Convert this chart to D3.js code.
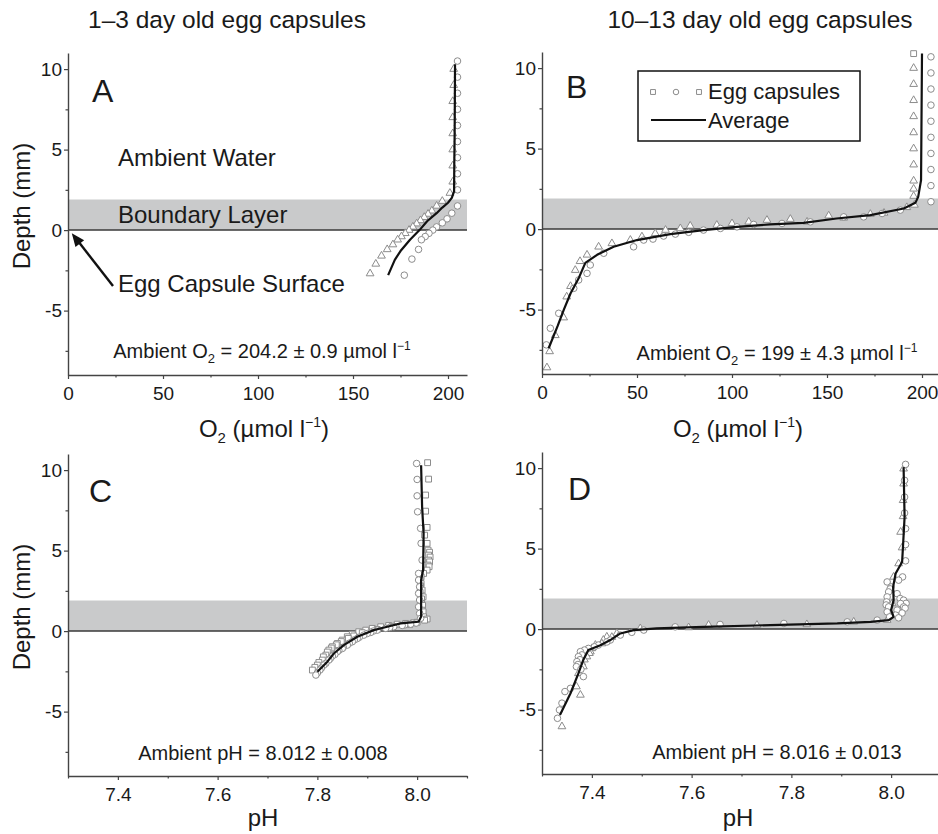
<!DOCTYPE html>
<html>
<head>
<meta charset="utf-8">
<script src="https://cdn.jsdelivr.net/npm/d3@7"></script>
<style>
  html, body { margin: 0; padding: 0; background: #fff; overflow: hidden; }
  text { font-family: "Liberation Sans", Arial, sans-serif; fill: #1a1a1a; }
</style>
</head>
<body>
<div id="chart"></div>
<script>
// shared scales / ticks
const depthDomain = [-9, 11];
const depthTicks = [-5, 0, 5, 10];
const depthMinor = [-7.5, -2.5, 2.5, 7.5];
const boundaryLayer = [0, 1.9];
const o2Domain = [0, 210];
const o2Ticks = [0, 50, 100, 150, 200];
const o2Minor = [25, 75, 125, 175];
const phDomain = [7.3, 8.1];
const phTicks = [7.4, 7.6, 7.8, 8.0];
const phMinor = [7.3, 7.5, 7.7, 7.9, 8.1];

// A: 1-3 day, O2
const aTriDepth = [10.0, 9.0, 8.0, 7.0, 6.0, 5.0, 4.0, 3.0, 2.3, 1.8, 1.5, 1.2, 1.0, 0.8, 0.6, 0.4, 0.2, 0.0, -0.2, -0.4, -0.6, -0.9, -1.2, -1.6, -2.1, -2.7];
const aTriO2 = [203, 203, 202.5, 202.5, 202.5, 202.5, 202.5, 202.5, 201, 197, 194, 191.5, 189.5, 187.5, 185.5, 183.5, 181.5, 179.5, 177.5, 175.5, 173.5, 171, 168, 165, 162, 159];
const aCirDepth = [10.5, 9.5, 8.5, 7.5, 6.5, 5.5, 4.5, 3.5, 2.5, 1.5, 1.05, 0.7, 0.45, 0.2, 0.0, -0.2, -0.4, -0.6, -1.2, -1.8, -2.8];
const aCirO2 = [205, 205, 205, 205, 205, 205, 205, 205, 205, 205, 202, 199.5, 197, 194, 192, 190, 188, 186, 184.5, 181, 177];
const aAvgDepth = [10.3, 8, 6, 4, 2.4, 2.0, 1.7, 1.4, 1.05, 0.55, 0.0, -0.6, -1.3, -1.85, -2.8];
const aAvgO2 = [203.7, 203.6, 203.5, 203.3, 203.2, 202, 200, 197, 194, 189, 185, 180, 175, 172, 168.5];

// B: 10-13 day, O2
const bTriDepth = [10.0, 9.0, 8.0, 7.0, 6.0, 5.0, 4.0, 3.0, 2.5, 2.05, 1.5, 1.35, 1.0, 0.93, 0.7, 0.83, 0.45, 0.62, 0.56, 0.45, 0.35, 0.25, 0.2, 0.04, -0.06, -0.27, -0.47, -0.68, -0.89, -1.1, -1.6, -2.0, -2.55, -3.55, -4.2, -5.5, -6.6, -7.6, -8.6];
const bTriO2 = [195.6, 195.6, 195.6, 195.6, 195.6, 195.6, 195.6, 195.6, 195.6, 195.6, 196, 192, 180, 172.8, 158.8, 150.9, 139.5, 130.7, 118.4, 108.8, 100, 92, 78, 72.8, 65, 59.6, 52.6, 46.5, 36.8, 29.8, 23.7, 20, 17.5, 15, 13, 11.4, 7, 4, 2.6];
const bCirDepth = [10.7, 9.7, 8.7, 7.7, 6.7, 5.7, 4.7, 3.7, 2.7, 1.7, 1.18, 0.97, 0.76, 0.76, 0.45, 0.35, 0.29, 0.14, 0.04, -0.06, -0.2, -0.31, -0.43, -0.62, -0.68, -1.1, -1.5, -2.23, -2.75, -3.16, -3.68, -5.23, -6.16, -7.19];
const bCirO2 = [204.7, 204.7, 204.7, 204.7, 204.7, 204.7, 204.7, 204.7, 204.7, 204.7, 188.6, 179, 169.3, 158.8, 141.2, 126.3, 111.4, 102.6, 93.9, 85, 77.2, 70.2, 64, 58.4, 53.5, 48.2, 32.5, 25.4, 23.7, 19.3, 16.7, 8.8, 4.4, 2.3];
const bSqrDepth = [10.9];
const bSqrO2 = [195.6];
const bAvgDepth = [10.9, 3.04, 2.0, 1.63, 1.28, 0.87, 0.66, 0.39, 0.29, 0.14, -0.06, -0.31, -0.68, -1.1, -1.6, -2.1, -3.0, -4.0, -5.0, -6.0, -7.4];
const bAvgO2 = [200, 199.5, 198, 196.5, 190.4, 172.8, 155, 137.7, 120, 102.6, 85, 67.5, 50, 37.7, 29, 22.8, 19.5, 15, 11.5, 8.3, 3.5];

// C: 1-3 day, pH
const cSqrDepth = [10.46, 9.44, 8.45, 7.45, 6.44, 5.96, 5.45, 5.03, 4.9, 4.72, 4.6, 4.41, 4.3, 4.1, 4.0, 3.79, 3.58, 3.37, 3.2, 2.96, 2.8, 2.55, 2.4, 2.13, 2.0, 1.72, 1.6, 1.3, 1.2, 0.89, 0.75, 0.68,
  0.55, 0.52, 0.48, 0.43, 0.4, 0.35, 0.3, 0.27, 0.17, 0.1, 0.06, -0.04, -0.1, -0.19, -0.3, -0.35, -0.45, -0.56, -0.65, -0.77, -0.85, -0.97, -1.05, -1.18, -1.3, -1.49, -1.6, -1.8, -1.95, -2.11, -2.25, -2.42];
const cSqrPH = [8.021, 8.023, 8.017, 8.017, 8.02, 8.015, 8.02, 8.022, 8.025, 8.023, 8.026, 8.023, 8.025, 8.022, 8.024, 8.02, 8.013, 8.008, 8.006, 8.008, 8.007, 8.01, 8.006, 8.012, 8.009, 8.008, 8.011, 8.01, 8.012, 8.013, 8.02, 8.015,
  8.0, 7.993, 7.977, 7.96, 7.985, 7.943, 7.95, 7.927, 7.91, 7.92, 7.897, 7.883, 7.89, 7.87, 7.873, 7.86, 7.862, 7.85, 7.848, 7.84, 7.838, 7.83, 7.828, 7.823, 7.82, 7.817, 7.812, 7.81, 7.803, 7.8, 7.795, 7.79];
const cCirDepth = [10.41, 9.42, 8.4, 7.41, 6.38, 5.45, 4.41, 3.58, 3.17, 2.75, 2.34, 1.93, 1.51, 1.1, 0.79,
  0.5, 0.43, 0.38, 0.35, 0.27, 0.22, 0.17, 0.06, 0.0, -0.08, -0.15, -0.25, -0.38, -0.46, -0.55, -0.66, -0.75, -0.87, -1.0, -1.08, -1.2, -1.28, -1.45, -1.55, -1.7, -1.8, -2.0, -2.11, -2.3, -2.42, -2.6, -2.73];
const cCirPH = [7.999, 8.0, 8.0, 8.001, 8.007, 8.008, 8.01, 8.003, 8.003, 8.005, 8.003, 8.005, 8.003, 8.005, 8.007,
  7.998, 7.987, 7.975, 7.97, 7.953, 7.945, 7.937, 7.92, 7.912, 7.907, 7.9, 7.893, 7.884, 7.88, 7.874, 7.87, 7.864, 7.86, 7.852, 7.85, 7.843, 7.84, 7.835, 7.83, 7.826, 7.823, 7.817, 7.813, 7.808, 7.805, 7.8, 7.797];
const cAvgDepth = [10.3, 7.7, 6.07, 3.8, 3.17, 0.9, 0.58, 0.48, 0.27, 0.06, -0.35, -0.87, -1.39, -1.9, -2.53];
const cAvgPH = [8.008, 8.01, 8.013, 8.012, 8.008, 8.008, 8.003, 7.967, 7.94, 7.913, 7.88, 7.853, 7.833, 7.82, 7.8];

// D: 10-13 day, pH
const dCirDepth = [10.23, 9.24, 8.2, 7.21, 6.24, 5.25, 4.24, 3.24, 3.04, 2.93, 2.62, 2.5, 2.31, 2.2, 2.0, 1.9, 1.8, 1.69, 1.6, 1.59, 1.5, 1.38, 1.38, 1.3, 1.18, 1.07, 1.0, 0.87, 0.76, 0.7, 0.56, 0.45, 0.35, 0.29, 0.14, -0.06, -0.2, -0.37, -0.68, -0.8, -0.99, -1.1, -1.2, -1.3, -1.4, -1.6, -1.71, -1.9, -2.02, -2.2, -2.33, -2.5, -2.95, -3.68, -3.88, -4.6, -5.02, -5.54];
const dCirPH = [8.029, 8.027, 8.027, 8.027, 8.029, 8.029, 8.029, 8.023, 8.015, 7.992, 8.0, 7.998, 7.995, 8.012, 7.992, 8.018, 8.025, 7.991, 8.03, 8.019, 7.99, 7.995, 8.025, 8.028, 8.012, 7.992, 8.022, 8.009, 7.997, 8.015, 7.972, 7.912, 7.785, 7.657, 7.567, 7.504, 7.48, 7.457, 7.437, 7.43, 7.413, 7.405, 7.393, 7.385, 7.377, 7.38, 7.373, 7.376, 7.37, 7.372, 7.369, 7.378, 7.383, 7.357, 7.346, 7.34, 7.335, 7.331];
const dTriDepth = [9.96, 9.03, 8.0, 7.0, 6.03, 5.06, 4.07, 3.24, 2.42, 1.59, 0.56, 0.45, 0.29, 0.25, 0.25, 0.1, 0.04, -0.27, -0.48, -0.5, -0.68, -0.9, -0.99, -1.2, -1.4, -1.5, -1.71, -1.9, -2.1, -2.33, -2.75, -3.57, -4.09, -6.05];
const dTriPH = [8.025, 8.025, 8.024, 8.024, 8.019, 8.022, 8.015, 8.005, 8.0, 8.002, 7.992, 7.925, 7.831, 7.731, 7.634, 7.594, 7.497, 7.45, 7.43, 7.44, 7.423, 7.42, 7.407, 7.4, 7.397, 7.395, 7.39, 7.385, 7.38, 7.383, 7.373, 7.369, 7.377, 7.34];
const dAvgDepth = [10.06, 6.96, 4.69, 4.17, 3.45, 2.62, 1.8, 1.18, 0.76, 0.56, 0.45, 0.35, 0.25, 0.14, 0.04, -0.06, -0.27, -0.68, -1.0, -1.3, -1.9, -2.75, -4.0, -5.33];
const dAvgPH = [8.025, 8.027, 8.023, 8.022, 8.009, 8.004, 8.005, 8.0, 8.005, 7.995, 7.959, 7.892, 7.758, 7.624, 7.53, 7.484, 7.457, 7.437, 7.417, 7.393, 7.383, 7.373, 7.357, 7.336];

const svg = d3.select("#chart").append("svg")
  .attr("width", 938)
  .attr("height", 834);

const markerStroke = "#8c8c8c";
const shapes = {
  tri: d3.symbol(d3.symbolTriangle, 26),
  cir: d3.symbol(d3.symbolCircle, 34),
  sqr: d3.symbol(d3.symbolSquare, 34)
};

function drawPanel(p) {
  const x = d3.scaleLinear().domain(p.xDomain).range([p.left, p.left + 399]);
  const y = d3.scaleLinear().domain(depthDomain).range([p.top + 322, p.top]);
  const g = svg.append("g");

  // boundary layer band
  g.append("rect")
    .attr("x", x(p.xDomain[0]))
    .attr("y", y(boundaryLayer[1]))
    .attr("width", x(p.xDomain[1]) - x(p.xDomain[0]))
    .attr("height", y(boundaryLayer[0]) - y(boundaryLayer[1]))
    .attr("fill", "#c9cacb");

  g.append("line")
    .attr("x1", x(p.xDomain[0])).attr("x2", x(p.xDomain[1]))
    .attr("y1", y(0)).attr("y2", y(0))
    .attr("stroke", "#3a3a3a")
    .attr("stroke-width", 1.5);

  // individual capsules
  p.series.forEach(s => {
    g.selectAll(null)
      .data(d3.zip(s.x, s.depth))
      .join("path")
      .attr("transform", d => `translate(${x(d[0])},${y(d[1])})`)
      .attr("d", shapes[s.shape])
      .attr("fill", "#fff")
      .attr("stroke", markerStroke)
      .attr("stroke-width", 1);
  });

  // average
  g.append("path")
    .datum(d3.zip(p.avgX, p.avgDepth))
    .attr("d", d3.line().x(d => x(d[0])).y(d => y(d[1])))
    .attr("fill", "none")
    .attr("stroke", "#111")
    .attr("stroke-width", 2.2)
    .attr("stroke-linejoin", "round");

  // axes
  const bottom = p.top + 322;
  const xAx = g.append("g")
    .attr("transform", `translate(0,${bottom})`)
    .call(d3.axisBottom(x).tickValues(p.xTicks).tickFormat(p.fmt).tickSizeInner(4).tickSizeOuter(0).tickPadding(8));
  g.append("g")
    .attr("transform", `translate(0,${bottom})`)
    .call(d3.axisBottom(x).tickValues(p.xMinor).tickFormat("").tickSizeInner(2.5).tickSizeOuter(0))
    .select(".domain").remove();
  const yAx = g.append("g")
    .attr("transform", `translate(${p.left},0)`)
    .call(d3.axisLeft(y).tickValues(depthTicks).tickFormat(d3.format("d")).tickSizeInner(4).tickSizeOuter(0).tickPadding(2));
  g.append("g")
    .attr("transform", `translate(${p.left},0)`)
    .call(d3.axisLeft(y).tickValues(depthMinor).tickFormat("").tickSizeInner(2.5).tickSizeOuter(0))
    .select(".domain").remove();

  g.selectAll(".domain").attr("stroke", "#444").attr("stroke-width", 1.4);
  g.selectAll(".tick line").attr("stroke", "#444").attr("stroke-width", 1.2);
  [xAx, yAx].forEach(a => a.selectAll("text")
    .style("font-family", "'Liberation Sans', Arial, sans-serif")
    .style("font-size", "19px")
    .attr("fill", "#1a1a1a"));
  yAx.selectAll("text").text(d => d < 0 ? "-" + Math.abs(d) : d);

  // panel letter
  g.append("text")
    .attr("x", p.letterX).attr("y", p.letterY)
    .style("font-size", "32px")
    .text(p.letter);

  // ambient note
  const note = g.append("text")
    .attr("x", p.noteX).attr("y", p.noteY)
    .attr("text-anchor", "middle")
    .style("font-size", "20px");
  p.note(note);

  return { x, y };
}

function o2Note(value) {
  return t => {
    t.append("tspan").text("Ambient O");
    t.append("tspan").attr("dy", 5).style("font-size", "13px").text("2");
    t.append("tspan").attr("dy", -5).text(" = " + value + " µmol l");
    t.append("tspan").attr("dy", -8).style("font-size", "12px").text("−1");
  };
}

function o2Label(t) {
  t.append("tspan").text("O");
  t.append("tspan").attr("dy", 6).style("font-size", "15px").text("2");
  t.append("tspan").attr("dy", -6).text(" (µmol l");
  t.append("tspan").attr("dy", -10).style("font-size", "14px").text("−1");
  t.append("tspan").attr("dy", 10).text(")");
}

const panelA = drawPanel({
  left: 68, top: 53, xDomain: o2Domain, xTicks: o2Ticks, xMinor: o2Minor, fmt: d3.format("d"),
  series: [
    { shape: "tri", x: aTriO2, depth: aTriDepth },
    { shape: "cir", x: aCirO2, depth: aCirDepth }
  ],
  avgX: aAvgO2, avgDepth: aAvgDepth,
  letter: "A", letterX: 92, letterY: 102,
  noteX: 262, noteY: 358, note: o2Note("204.2 ± 0.9")
});

drawPanel({
  left: 542, top: 52, xDomain: o2Domain, xTicks: o2Ticks, xMinor: o2Minor, fmt: d3.format("d"),
  series: [
    { shape: "tri", x: bTriO2, depth: bTriDepth },
    { shape: "cir", x: bCirO2, depth: bCirDepth },
    { shape: "sqr", x: bSqrO2, depth: bSqrDepth }
  ],
  avgX: bAvgO2, avgDepth: bAvgDepth,
  letter: "B", letterX: 566, letterY: 98,
  noteX: 777, noteY: 360, note: o2Note("199 ± 4.3")
});

drawPanel({
  left: 68, top: 454, xDomain: phDomain, xTicks: phTicks, xMinor: phMinor, fmt: d3.format(".1f"),
  series: [
    { shape: "sqr", x: cSqrPH, depth: cSqrDepth },
    { shape: "cir", x: cCirPH, depth: cCirDepth }
  ],
  avgX: cAvgPH, avgDepth: cAvgDepth,
  letter: "C", letterX: 89, letterY: 502,
  noteX: 263, noteY: 760, note: t => t.text("Ambient pH = 8.012 ± 0.008")
});

drawPanel({
  left: 542, top: 452, xDomain: phDomain, xTicks: phTicks, xMinor: phMinor, fmt: d3.format(".1f"),
  series: [
    { shape: "tri", x: dTriPH, depth: dTriDepth },
    { shape: "cir", x: dCirPH, depth: dCirDepth }
  ],
  avgX: dAvgPH, avgDepth: dAvgDepth,
  letter: "D", letterX: 568, letterY: 500,
  noteX: 777, noteY: 759, note: t => t.text("Ambient pH = 8.016 ± 0.013")
});

// column titles
svg.append("text").attr("x", 227).attr("y", 28).attr("text-anchor", "middle")
  .style("font-size", "24.5px").text("1–3 day old egg capsules");
svg.append("text").attr("x", 760).attr("y", 28).attr("text-anchor", "middle")
  .style("font-size", "24.5px").text("10–13 day old egg capsules");

// axis titles
[[30, 206], [30, 607]].forEach(([cx, cy]) => {
  svg.append("text")
    .attr("transform", `translate(${cx},${cy}) rotate(-90)`)
    .attr("text-anchor", "middle")
    .style("font-size", "24px")
    .text("Depth (mm)");
});
[264, 738].forEach(cx => {
  const t = svg.append("text").attr("x", cx).attr("y", 437)
    .attr("text-anchor", "middle").style("font-size", "24px");
  o2Label(t);
});
[263, 738].forEach(cx => {
  svg.append("text").attr("x", cx).attr("y", 826)
    .attr("text-anchor", "middle").style("font-size", "24px").text("pH");
});

// panel A annotations
svg.append("text").attr("x", 118).attr("y", 166).style("font-size", "24px").text("Ambient Water");
svg.append("text").attr("x", 118).attr("y", 223).style("font-size", "24px").text("Boundary Layer");
svg.append("text").attr("x", 118).attr("y", 292).style("font-size", "24px").text("Egg Capsule Surface");

const ax = panelA.x, ay = panelA.y;
const tip = [ax(2), ay(-0.2)];
const tail = [113, 286];
svg.append("line")
  .attr("x1", tail[0]).attr("y1", tail[1])
  .attr("x2", tip[0] + 6).attr("y2", tip[1] + 7.5)
  .attr("stroke", "#111").attr("stroke-width", 2.4);
const ang = Math.atan2(tail[1] - tip[1], tail[0] - tip[0]);
const headLen = 13, headW = 5.5;
const bx = tip[0] + headLen * Math.cos(ang), by = tip[1] + headLen * Math.sin(ang);
svg.append("path")
  .attr("d", `M${tip[0]},${tip[1]} L${bx - headW * Math.sin(ang)},${by + headW * Math.cos(ang)} L${bx + headW * Math.sin(ang)},${by - headW * Math.cos(ang)} Z`)
  .attr("fill", "#111");

// legend (panel B)
const lg = svg.append("g");
lg.append("rect").attr("x", 638).attr("y", 71).attr("width", 222).attr("height", 70)
  .attr("fill", "#fff").attr("stroke", "#111").attr("stroke-width", 1.5);
const legendShapes = ["sqr", "cir", "sqr"];
const legendX = d3.scalePoint().domain(d3.range(legendShapes.length)).range([653, 699]);
lg.selectAll(null).data(legendShapes).join("path")
  .attr("transform", (d, i) => `translate(${legendX(i)},92)`)
  .attr("d", d => d3.symbol(d === "sqr" ? d3.symbolSquare : d3.symbolCircle, 24)())
  .attr("fill", "#fff").attr("stroke", markerStroke);
lg.append("text").attr("x", 708).attr("y", 99).style("font-size", "22px").text("Egg capsules");
lg.append("line").attr("x1", 651).attr("x2", 706).attr("y1", 120).attr("y2", 120)
  .attr("stroke", "#111").attr("stroke-width", 2);
lg.append("text").attr("x", 708).attr("y", 128).style("font-size", "22px").text("Average");
</script>
</body>
</html>
